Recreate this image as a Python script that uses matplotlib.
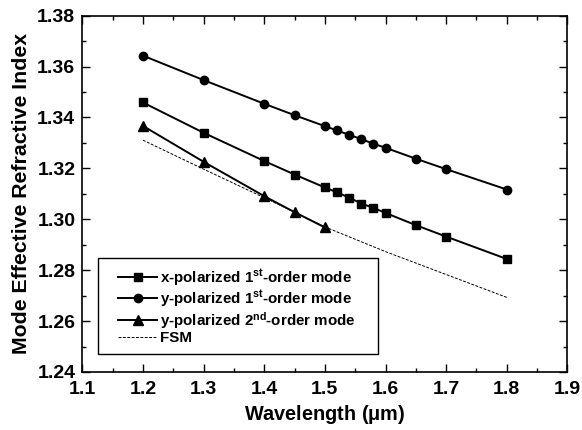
import matplotlib
matplotlib.use("Agg")
import matplotlib.pyplot as plt
from matplotlib.ticker import MultipleLocator, FormatStrFormatter
from matplotlib.patches import Rectangle

plt.rcParams['font.family'] = ['Liberation Sans', 'DejaVu Sans']
plt.rcParams['font.weight'] = 'bold'
plt.rcParams['mathtext.fontset'] = 'custom'
plt.rcParams['mathtext.rm'] = 'Liberation Sans:bold'
plt.rcParams['mathtext.bf'] = 'Liberation Sans:bold'
plt.rcParams['mathtext.it'] = 'Liberation Sans:bold'
plt.rcParams['mathtext.default'] = 'bf'

# Data
wl_y1 = [1.2, 1.3, 1.4, 1.45, 1.5, 1.52, 1.54, 1.56, 1.58, 1.6, 1.65, 1.7, 1.8]
n_y1 = [1.3643, 1.3547, 1.3454, 1.3409, 1.3366, 1.3349, 1.3332, 1.3315, 1.3297, 1.3281, 1.3238, 1.3197, 1.3117]
wl_x1 = [1.2, 1.3, 1.4, 1.45, 1.5, 1.52, 1.54, 1.56, 1.58, 1.6, 1.65, 1.7, 1.8]
n_x1 = [1.3459, 1.3340, 1.3229, 1.3176, 1.3125, 1.3106, 1.3085, 1.3062, 1.3045, 1.3025, 1.2977, 1.2932, 1.2844]
wl_y2 = [1.2, 1.3, 1.4, 1.45, 1.5]
n_y2 = [1.3367, 1.3226, 1.3091, 1.3028, 1.2968]
wl_fsm = [1.2, 1.3, 1.4, 1.45, 1.5, 1.6, 1.7, 1.8]
n_fsm = [1.3311, 1.3197, 1.3085, 1.3028, 1.2970, 1.2873, 1.2783, 1.2693]

labels = [r'x-polarized 1$^{st}$-order mode',
          r'y-polarized 1$^{st}$-order mode',
          r'y-polarized 2$^{nd}$-order mode',
          'FSM']

fig = plt.figure(figsize=(5.82, 4.30), dpi=100)
ax = fig.add_axes([0.1414, 0.1349, 0.8336, 0.8286])

ax.plot(wl_x1, n_x1, '-', color='black', lw=1.4, marker='s', ms=5.5, label=labels[0])
ax.plot(wl_y1, n_y1, '-', color='black', lw=1.4, marker='o', ms=6, label=labels[1])
ax.plot(wl_y2, n_y2, '-', color='black', lw=1.4, marker='^', ms=6.5, label=labels[2])
ax.plot(wl_fsm, n_fsm, color='black', lw=0.7, linestyle=(0, (3, 1.5)), label=labels[3])

ax.set_xlim(1.1, 1.9)
ax.set_ylim(1.24, 1.38)
ax.xaxis.set_major_locator(MultipleLocator(0.1))
ax.xaxis.set_minor_locator(MultipleLocator(0.05))
ax.yaxis.set_major_locator(MultipleLocator(0.02))
ax.yaxis.set_minor_locator(MultipleLocator(0.01))
ax.xaxis.set_major_formatter(FormatStrFormatter('%.1f'))
ax.yaxis.set_major_formatter(FormatStrFormatter('%.2f'))

ax.tick_params(which='both', direction='in', top=True, right=True, labelsize=14, width=1)
ax.tick_params(which='major', length=5.5)
ax.tick_params(axis='x', which='major', pad=6.5)
ax.tick_params(axis='y', which='major', pad=5)
ax.tick_params(which='minor', length=3)
for s in ax.spines.values():
    s.set_linewidth(1.2)

ax.set_xlabel(r'Wavelength ($\mu$m)', fontsize=14.3, fontweight='bold', labelpad=3.5)
ax.set_ylabel('Mode Effective Refractive Index', fontsize=15.3, fontweight='bold', labelpad=4.5)

leg = ax.legend(loc='upper left', bbox_to_anchor=(0.0736, 0.2947), fontsize=10.9,
                frameon=False, handlelength=2.6, handletextpad=0.15,
                labelspacing=0.05, borderpad=0.0, borderaxespad=0.0)

fig.canvas.draw()
bb = leg.get_window_extent()
padl, padr, padt, padb = 20, 23, 9, 9
x0, y0 = bb.x0 - padl, bb.y0 - padb
w, h = bb.width + padl + padr, bb.height + padt + padb
rect = Rectangle(fig.transFigure.inverted().transform((x0, y0)),
                 w / fig.bbox.width, h / fig.bbox.height,
                 transform=fig.transFigure, fill=True, facecolor='white',
                 edgecolor='black', lw=1.0, zorder=4)
fig.add_artist(rect)
leg.set_zorder(5)
leg.remove()
fig.add_artist(leg)

fig.savefig('out.png', dpi=100)
